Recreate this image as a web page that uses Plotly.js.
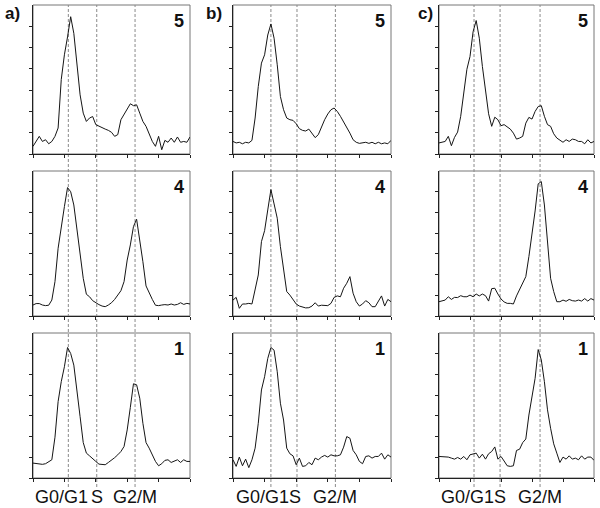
<!DOCTYPE html>
<html>
<head>
<meta charset="utf-8">
<script src="https://cdn.plot.ly/plotly-3.0.1.min.js"></script>
<style>html,body{margin:0;padding:0;background:#fff;}#chart{width:600px;height:508px;}</style>
</head>
<body>
<div id="chart"></div>
<script>
// DNA content channel (x) and cell counts (y) per panel
const channel = [0,2,4,6,8,10,12,14,16,18,20,22,24,26,28,30,32,34,36,38,40,42,44,46,48,50,52,54,56,58,60,62,64,66,68,70,72,74,76,78,80,82,84,86,88,90,92,94,96,98,100];

const a5 = [3.6,5.9,8.3,5.9,6.7,4.8,5.9,8.3,12.2,35,46.6,55,64.5,56.7,41,27.8,19.2,15.3,16.9,17.6,13.8,13,12.2,11.7,11.1,10.2,8.3,9.1,16.1,18.4,20.8,23.6,22.7,23.1,19.2,15.3,13,9.8,5.9,3.6,8.3,2,6.4,5.5,7.5,5.5,8,5.5,5.9,5.5,8];
const a4 = [5.3,6,6,5.3,5,5.2,7.7,16.6,32.7,44,52.8,62,60,53.6,41.5,31.9,18.2,10.5,9.3,7.4,6.3,5.5,4.8,4.5,5.3,6.4,8,10.3,12.2,16.6,27,34.3,43.2,46.7,37.5,26.2,14.5,11,8,5.2,5,5.3,5.5,5.3,5.8,5.3,5.6,6.4,5.6,6.1,5.8];
const a1 = [7.2,6.9,6.7,6.6,6.9,7.7,8.8,19.7,36.9,46.5,53.7,63,60.1,54.5,40.9,29.6,17.1,12,10.7,9.1,8,6.7,6.4,6.4,7.5,8.5,9.8,11.2,12.8,15.2,23.2,34.1,45.5,45,38.5,26.4,17.1,14.4,11.2,8,5.9,6.9,8.5,8.8,7.5,8.2,8.8,7.5,8.8,8,8];

const b5 = [5.9,5.2,5.5,4.8,5.5,5.2,6.4,16.9,31.7,42.7,46.6,55.9,61.1,54.4,41.9,27,20.8,16.9,16.1,15.8,14.2,11.9,11.1,10.8,11.7,9.8,7.7,9.1,12.7,16.1,18.8,20.8,21.6,20,17.7,15.2,12.2,9.8,6.7,5.5,5,5.2,5.5,5,5.5,4.8,5.5,4.8,5.2,4.8,6.4];
const b4 = [7.7,9,3.7,5.8,5.8,6.1,5.8,12.2,19.8,35.9,41.2,51.2,61,54.1,47.2,33.5,23.8,11.8,10.1,7.7,5.8,4.8,4.5,3.9,4,4.8,6.4,4.8,5.2,5.2,5,6.1,9,9.7,9.3,13.4,15.8,19,11,6.9,4.8,5.8,7.4,6.4,4.5,4.5,6.9,9.7,4.8,8,6.9];
const b1 = [8.8,5.6,10.1,5.9,9.1,5,8.8,14.4,26.4,42.5,48.9,57.7,63,61.7,51.3,36.1,28,14.4,11.7,10.7,6.4,9.6,5.6,5.9,7.5,6.4,9.6,8.8,10.1,10.9,10.1,11.2,10.7,10.7,11.2,14.9,20,19.2,13.3,11.2,8,6.9,10.4,10.7,9.6,10.4,10.4,12,9.1,11.2,10.1];

const c5 = [5.2,5.5,5.9,8.3,3.9,7.8,10.3,17.7,28.6,39.8,45.8,57.5,62.7,54.4,41.1,28.6,18.9,13,17.3,16.1,13.3,13.8,12.7,11.7,9.8,7,7.5,8.3,14.5,17.2,16.4,20,22.3,22.7,17.7,13.8,13,9.5,7.5,6.7,5.5,6.7,5.9,7,6.7,5.9,5.9,4.8,6.7,5.2,5.9];
const c4 = [6.9,7.4,7.7,9.3,8,9,8.9,9.8,9.3,9.3,10.1,9.3,10.6,9.7,10.6,9.8,7.2,13.2,13.4,10.6,8.2,6.8,6.1,6.1,5.8,9.7,12.9,15.3,19,28.7,39.1,50.7,63.8,64.9,53.6,34.3,18.2,11.8,6.9,6.9,7.7,7.1,8,7.4,7.2,7.7,7.2,8.4,7.2,8.4,7.7];
const c1 = [10.4,10.4,10.1,10.1,9.6,9.1,9.9,9.1,10.4,8.8,11.2,11.7,12,9.6,11.5,9.1,11.7,12.8,15,9.1,10.4,8.2,5.9,5.6,5.9,13.3,13.9,17.1,18.8,30.4,40.1,48.1,62,57,46.5,32.9,24,16.5,12,7.5,10.1,9.1,10.7,9.1,9.6,8.8,10.7,9.1,10.1,10.1,8.5];

// phase marker positions (channel units) per column
const phasesA = [22.5, 40.6, 65];
const phasesB = [24, 40.5, 64.8];
const phasesC = [22.6, 39.4, 65.2];
const phaseLabels = ["G0/G1", "S", "G2/M"];
const columnLabels = ["a)", "b)", "c)"];
const rowLabels = ["5", "4", "1"];

const yTicks = [0,10,20,30,40,50,60];
const xTicks = [0,20,40,60,80,100];

const W = 600, H = 508;
const px = v => v / W;
const py = v => 1 - v / H;

const colPx = [[33,190],[233,391],[439,594]];
const rowPx = [[5,154],[171,316],[333,478]];

const grid = [[a5,b5,c5],[a4,b4,c4],[a1,b1,c1]];
const phases = [phasesA, phasesB, phasesC];

const data = [];
const layout = {
  width: W, height: H,
  margin: {l:0,r:0,t:0,b:0},
  paper_bgcolor: '#ffffff',
  plot_bgcolor: 'rgba(0,0,0,0)',
  showlegend: false,
  font: {family: 'Liberation Sans, Arial, sans-serif', color: '#111'},
  shapes: [],
  annotations: []
};

for (let r = 0; r < 3; r++) {
  for (let c = 0; c < 3; c++) {
    const idx = r*3 + c + 1;
    const s = idx === 1 ? '' : String(idx);
    data.push({
      x: channel, y: grid[r][c],
      xaxis: 'x' + s, yaxis: 'y' + s,
      type: 'scatter', mode: 'lines',
      line: {color: '#151515', width: 1},
      hoverinfo: 'skip'
    });
    layout['xaxis' + s] = {
      domain: [px(colPx[c][0]), px(colPx[c][1])],
      anchor: 'y' + s,
      range: [0, 100],
      showgrid: false, zeroline: false,
      showline: true, linecolor: '#222', linewidth: 1,
      ticks: 'outside', ticklen: 3, tickwidth: 1, tickcolor: '#222',
      tickmode: 'array', tickvals: xTicks,
      showticklabels: false, fixedrange: true
    };
    layout['yaxis' + s] = {
      domain: [py(rowPx[r][1]), py(rowPx[r][0])],
      anchor: 'x' + s,
      range: [0, 70],
      showgrid: false, zeroline: false,
      showline: true, linecolor: '#222', linewidth: 1,
      ticks: 'outside', ticklen: 3, tickwidth: 1, tickcolor: '#222',
      tickmode: 'array', tickvals: yTicks,
      showticklabels: false, fixedrange: true
    };
    // frame (top/right lighter)
    layout.shapes.push({
      type: 'rect', xref: 'x' + s + ' domain', yref: 'y' + s + ' domain',
      x0: 0, x1: 1, y0: 0, y1: 1,
      line: {color: '#777', width: 1}, layer: 'below'
    });
    // panel number
    layout.annotations.push({
      xref: 'x' + s + ' domain', yref: 'y' + s + ' domain',
      x: 0.975, y: 0.975, xanchor: 'right', yanchor: 'top',
      text: '<b>' + rowLabels[r] + '</b>', showarrow: false,
      font: {size: 18, color: '#111'}
    });
  }
}

const labelX = [[61.5, 97, 135],[262, 295, 335],[467, 500, 540]];
const colLetterX = [12, 214, 425];
for (let c = 0; c < 3; c++) {
  const s = c === 0 ? '' : String(c + 1);
  phases[c].forEach(p => {
    layout.shapes.push({
      type: 'line', xref: 'x' + s, yref: 'paper',
      x0: p, x1: p, y0: py(487), y1: py(5),
      line: {color: '#8a8a8a', width: 1, dash: '3px,2px'}, layer: 'below'
    });
  });
  phaseLabels.forEach((t, i) => {
    layout.annotations.push({
      xref: 'paper', yref: 'paper', x: px(labelX[c][i]), y: py(497),
      xanchor: 'center', yanchor: 'middle', text: t, showarrow: false,
      font: {size: 18, color: '#111'}
    });
  });
  layout.annotations.push({
    xref: 'paper', yref: 'paper', x: px(colLetterX[c]), y: py(14),
    xanchor: 'center', yanchor: 'middle', text: '<b>' + columnLabels[c] + '</b>',
    showarrow: false, font: {size: 17, color: '#111'}
  });
}

Plotly.newPlot('chart', data, layout, {staticPlot: true, displayModeBar: false});
</script>
</body>
</html>
